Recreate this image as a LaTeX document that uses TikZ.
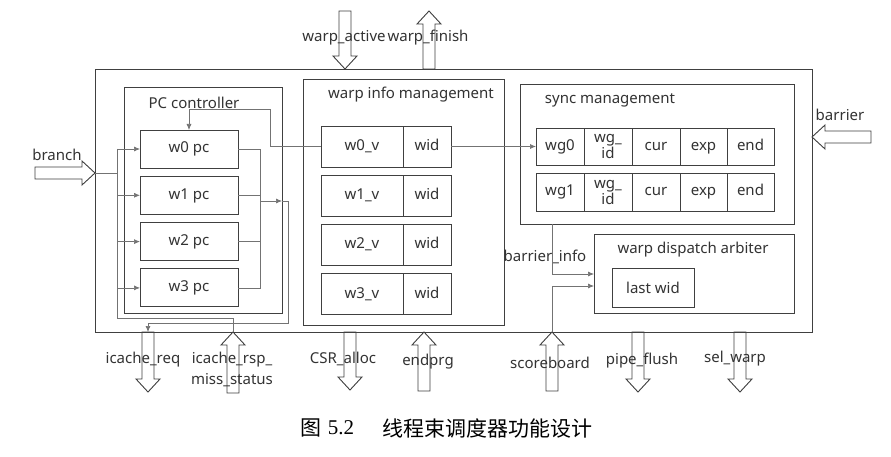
\documentclass[tikz,border=0pt]{standalone}
\usepackage{fontspec}
\setmainfont{Noto Sans}
\newfontfamily\cjk{Noto Sans CJK SC}
\newfontfamily\capnum{Liberation Serif}
\usepackage{tikz}
\usetikzlibrary{positioning, arrows.meta}
\tikzstyle{frame} = [rectangle, draw=black!75, line width=0.9pt, inner sep=0pt, outer sep=0pt, anchor=north west]
\tikzstyle{cell} = [rectangle, draw=black!75, line width=0.9pt, inner sep=0pt, outer sep=0pt, minimum height=38, text height=11, text depth=3.5, text centered]
\tikzstyle{twoline} = [align=center, text height=, text depth=]
\tikzstyle{label} = [inner sep=0pt, text=black!80]
\tikzstyle{wire} = [draw=black!55, line width=0.7pt]
\tikzstyle{arrow} = [wire, -{Latex[length=6pt,width=5pt]}]
\tikzstyle{port} = [draw=black!75, line width=0.9pt, line join=miter]
% block arrow: tip, rotation, length
\newcommand{\port}[3]{\draw[port, shift={#1}, rotate=#2] (0,0) -- (-13,12) -- (-13,6) -- (-#3,6) -- (-#3,-6) -- (-13,-6) -- (-13,-12) -- cycle;}
\begin{document}
\begin{tikzpicture}[x=1pt, y=-1pt, node distance=46.3, font=\fontsize{15}{14}\selectfont, text=black!80]
  \path[use as bounding box, fill=white] (0,0) rectangle (891,457);

  % frames
  \node (sched) [frame, minimum width=717, minimum height=263] at (95,69) {};
  \node (pcctrl) [frame, minimum width=158, minimum height=226] at (124,87) {};
  \node (winfo) [frame, minimum width=201, minimum height=246] at (303,79) {};
  \node (sync) [frame, minimum width=274, minimum height=140] at (520,84) {};
  \node (arbiter) [frame, minimum width=200, minimum height=79] at (594,234) {};
  \node (lastwid) [frame, minimum width=82, minimum height=39] at (612,268) {last wid};

  \node (pctitle) [label] at (194,103) {PC controller};
  \node (wititle) [label] at (411,95) {warp info management};
  \node (sytitle) [label] at (610,100) {sync management};
  \node (artitle) [label] at (693,250) {warp dispatch arbiter};

  % PC controller
  \node (wpc0) [cell, minimum width=98] at (189,149) {w0 pc};
  \node (wpc1) [cell, minimum width=98, below of=wpc0] {w1 pc};
  \node (wpc2) [cell, minimum width=98, below of=wpc1] {w2 pc};
  \node (wpc3) [cell, minimum width=98, below of=wpc2] {w3 pc};

  % warp info
  \node (wv0) [cell, minimum width=82, minimum height=41] at (362,146.5) {w0\_v};
  \node (wv1) [cell, minimum width=82, minimum height=41, below of=wv0, yshift=-3] {w1\_v};
  \node (wv2) [cell, minimum width=82, minimum height=41, below of=wv1, yshift=-3] {w2\_v};
  \node (wv3) [cell, minimum width=82, minimum height=41, below of=wv2, yshift=-3] {w3\_v};
  \node (wid0) [cell, minimum width=48, minimum height=41, right=0pt of wv0] {wid};
  \node (wid1) [cell, minimum width=48, minimum height=41, right=0pt of wv1] {wid};
  \node (wid2) [cell, minimum width=48, minimum height=41, right=0pt of wv2] {wid};
  \node (wid3) [cell, minimum width=48, minimum height=41, right=0pt of wv3] {wid};

  % sync table
  \node (wg0) [cell, minimum width=48, minimum height=37] at (560,146.5) {wg0};
  \node (wgid0) [cell, twoline, minimum width=48, minimum height=37, right=0pt of wg0] {wg\_\\id};
  \node (cur0) [cell, minimum width=48, minimum height=37, right=0pt of wgid0] {cur};
  \node (exp0) [cell, minimum width=47, minimum height=37, right=0pt of cur0] {exp};
  \node (end0) [cell, minimum width=47, minimum height=37, right=0pt of exp0] {end};
  \node (wg1) [cell, minimum width=48] at (560,192) {wg1};
  \node (wgid1) [cell, twoline, minimum width=48, right=0pt of wg1] {wg\_\\id};
  \node (cur1) [cell, minimum width=48, right=0pt of wgid1] {cur};
  \node (exp1) [cell, minimum width=47, right=0pt of cur1] {exp};
  \node (end1) [cell, minimum width=47, right=0pt of exp1] {end};

  % ports
  \coordinate (brtip) at (95,173);
  \coordinate (bartip) at (812,137);
  \coordinate (acttip) at (345,69);
  \coordinate (fintip) at (429,11);
  \coordinate (reqtip) at (148,392);
  \coordinate (reqin) at (148,332);
  \coordinate (rsptip) at (233,332);
  \coordinate (csrtip) at (350,390);
  \coordinate (endtip) at (424,332);
  \coordinate (sbtip) at (552,332);
  \coordinate (flushtip) at (638,392);
  \coordinate (seltip) at (740,392);
  \port{(brtip)}{0}{60}
  \port{(bartip)}{180}{59}
  \port{(acttip)}{-90}{58}
  \port{(fintip)}{90}{58}
  \port{(reqtip)}{-90}{60}
  \port{(rsptip)}{90}{61}
  \port{(csrtip)}{-90}{58}
  \port{(endtip)}{90}{59}
  \port{(sbtip)}{90}{59}
  \port{(flushtip)}{-90}{60}
  \port{(seltip)}{-90}{60}

  \node (branchlbl) [label] at (57,155) {branch};
  \node (barrierlbl) [label] at (840,115) {barrier};
  \node (activelbl) [label] at (344,38) {warp\_active};
  \node (finishlbl) [label] at (428,38) {warp\_finish};
  \node (reqlbl) [label] at (143,360) {icache\_req};
  \node (rsplbl) [label] at (232,360) {icache\_rsp\_};
  \node (misslbl) [label] at (232,380) {miss\_status};
  \node (csrlbl) [label] at (343,359) {CSR\_alloc};
  \node (endlbl) [label] at (428,362) {endprg};
  \node (sblbl) [label] at (550,363) {scoreboard};
  \node (flushlbl) [label] at (642,361) {pipe\_flush};
  \node (sellbl) [label] at (735,359) {sel\_warp};
  \node (binfolbl) [label] at (545,257) {barrier\_info};

  % wiring
  \coordinate (busin) at (117,173);
  \coordinate (bustop) at (117,149);
  \coordinate (busbot) at (117,318);
  \coordinate (merge) at (260,201);
  \coordinate (pcout) at (282,201);
  \coordinate (reqbend) at (288,323);
  \coordinate (bin) at (594,274);
  \coordinate (sin) at (594,286);
  \draw [wire] (brtip) -- (busin);
  \draw [wire] (bustop) -- (busbot) -| (rsptip);
  \draw [arrow] (bustop) -- (wpc0.west);
  \draw [arrow] (bustop |- wpc1.west) -- (wpc1.west);
  \draw [arrow] (bustop |- wpc2.west) -- (wpc2.west);
  \draw [arrow] (bustop |- wpc3.west) -- (wpc3.west);
  \draw [wire] (wpc0.east) -| (merge |- wpc3.east) -- (wpc3.east);
  \draw [wire] (wpc1.east) -- (merge |- wpc1.east);
  \draw [wire] (wpc2.east) -- (merge |- wpc2.east);
  \draw [arrow] (merge) -- (pcout);
  \draw [wire] (pcout) -- (reqbend |- pcout) -- (reqbend) -- (reqin |- reqbend);
  \draw [arrow] (reqin |- reqbend) -- (reqin);
  \draw [arrow] (wv0.west) -- ++(-51,0) |- (wpc0.north |- 0,109) -- (wpc0.north);
  \draw [arrow] (wid0.east) -- (wg0.west);
  \draw [arrow] (sync.south west -| sbtip) |- (bin);
  \draw [arrow] (sbtip) |- (sin);

  % caption
  \node (capfig) [inner sep=0pt, text=black] at (311,428) {\fontsize{21}{21}\selectfont\cjk 图};
  \node (capno) [inner sep=0pt, text=black] at (341,428) {\fontsize{21}{21}\selectfont\capnum 5.2};
  \node (captext) [inner sep=0pt, text=black] at (487,428) {\fontsize{21}{21}\selectfont\cjk 线程束调度器功能设计};
\end{tikzpicture}
\end{document}
